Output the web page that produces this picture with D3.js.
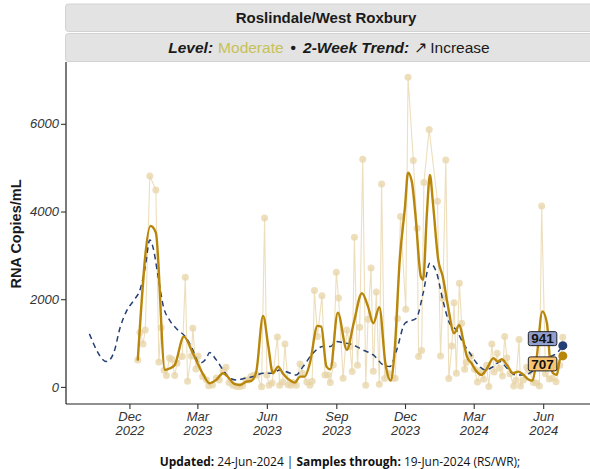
<!DOCTYPE html>
<html><head><meta charset="utf-8">
<script src="https://cdn.jsdelivr.net/npm/d3@7"></script>
<style>
body{margin:0;background:#fff;}
svg{display:block;font-family:"Liberation Sans",Arial,Helvetica,sans-serif;}
</style>
</head><body>
<svg id="chart" width="590" height="469"></svg>
<script>
// ---------- DATA ----------
const rawDates = ["2022-12-12","2022-12-15","2022-12-19","2022-12-22","2022-12-28","2023-01-05","2023-01-09","2023-01-12","2023-01-16","2023-01-19","2023-01-23","2023-01-26","2023-01-30","2023-02-02","2023-02-09","2023-02-13","2023-02-16","2023-02-21","2023-02-23","2023-02-27","2023-03-02","2023-03-08","2023-03-13","2023-03-16","2023-03-21","2023-03-26","2023-03-30","2023-04-04","2023-04-08","2023-04-12","2023-04-17","2023-04-22","2023-04-26","2023-04-30","2023-05-04","2023-05-08","2023-05-11","2023-05-15","2023-05-19","2023-05-25","2023-05-29","2023-06-01","2023-06-04","2023-06-08","2023-06-15","2023-06-18","2023-06-22","2023-06-25","2023-06-29","2023-07-03","2023-07-06","2023-07-10","2023-07-15","2023-07-18","2023-07-24","2023-07-28","2023-07-31","2023-08-03","2023-08-07","2023-08-13","2023-08-17","2023-08-21","2023-08-24","2023-08-28","2023-09-01","2023-09-04","2023-09-10","2023-09-15","2023-09-19","2023-09-22","2023-09-25","2023-09-29","2023-10-02","2023-10-06","2023-10-10","2023-10-13","2023-10-17","2023-10-20","2023-10-24","2023-10-28","2023-10-31","2023-11-04","2023-11-09","2023-11-15","2023-11-18","2023-11-21","2023-11-25","2023-12-02","2023-12-05","2023-12-12","2023-12-17","2023-12-19","2023-12-23","2023-12-26","2024-01-02","2024-01-13","2024-01-17","2024-01-20","2024-01-24","2024-01-28","2024-02-01","2024-02-04","2024-02-07","2024-02-11","2024-02-14","2024-02-18","2024-02-20","2024-02-26","2024-03-02","2024-03-06","2024-03-10","2024-03-14","2024-03-18","2024-03-21","2024-03-25","2024-03-28","2024-04-01","2024-04-04","2024-04-08","2024-04-11","2024-04-14","2024-04-18","2024-04-23","2024-04-26","2024-04-30","2024-05-02","2024-05-06","2024-05-10","2024-05-14","2024-05-19","2024-05-23","2024-05-27","2024-05-30","2024-06-04","2024-06-09","2024-06-13","2024-06-18","2024-06-23","2024-06-27"];
const rawValues = [616,1238,980,1300,4812,4493,570,1350,380,260,660,630,260,540,691,2501,130,707,1340,410,707,235,160,25,45,205,160,370,450,100,40,10,10,25,160,160,240,270,270,5,3850,270,40,90,1140,40,110,980,50,40,100,40,525,310,110,40,130,2196,1147,2080,270,270,100,500,2616,2030,200,1300,919,349,3414,495,1361,5193,39,1544,2714,358,2166,60,4629,189,312,200,200,1560,3884,1772,7063,5161,3619,691,828,4659,5868,4235,707,2014,5177,189,935,1922,312,2365,1453,404,554,707,400,114,372,176,495,7,980,342,768,426,251,1147,661,300,23,150,1080,20,160,449,350,100,90,23,4128,300,180,200,120,495,1133];

const smoothDates = ["2022-12-12","2022-12-29","2023-01-05","2023-01-17","2023-01-23","2023-01-30","2023-02-11","2023-02-23","2023-03-09","2023-03-17","2023-03-26","2023-04-04","2023-04-10","2023-04-19","2023-04-26","2023-05-05","2023-05-12","2023-05-18","2023-05-27","2023-06-03","2023-06-09","2023-06-16","2023-06-22","2023-07-02","2023-07-08","2023-07-15","2023-07-21","2023-07-28","2023-08-07","2023-08-12","2023-08-19","2023-08-24","2023-09-03","2023-09-15","2023-09-24","2023-10-05","2023-10-13","2023-10-20","2023-10-28","2023-11-05","2023-11-12","2023-11-17","2023-11-24","2023-12-01","2023-12-05","2023-12-10","2023-12-15","2023-12-22","2023-12-25","2023-12-30","2024-01-03","2024-01-07","2024-01-14","2024-01-20","2024-01-27","2024-02-04","2024-02-11","2024-02-16","2024-02-21","2024-02-27","2024-03-05","2024-03-11","2024-03-18","2024-03-27","2024-04-02","2024-04-07","2024-04-14","2024-04-22","2024-04-29","2024-05-06","2024-05-12","2024-05-18","2024-05-23","2024-05-31","2024-06-06","2024-06-10","2024-06-14","2024-06-19","2024-06-23","2024-06-27"];
const smoothValues = [600,3671,3519,388,420,500,1147,768,274,84,160,312,235,68,45,120,144,349,1619,920,312,463,312,144,98,235,235,540,1391,1375,463,400,1694,844,1453,2137,1831,1453,1818,540,144,768,2896,4112,4887,4682,3884,2515,2440,3960,4835,4189,2896,2515,1831,1225,1414,1072,691,540,349,274,404,654,577,631,502,312,349,274,176,144,616,1722,1453,616,312,274,616,707];

const regionDates = ["2022-10-09","2022-11-01","2022-11-10","2022-11-19","2022-11-28","2022-12-08","2022-12-15","2022-12-22","2022-12-28","2023-01-01","2023-01-08","2023-01-15","2023-01-23","2023-02-03","2023-02-13","2023-02-21","2023-03-04","2023-03-13","2023-03-17","2023-03-26","2023-04-04","2023-04-13","2023-04-22","2023-05-03","2023-05-14","2023-05-27","2023-06-09","2023-06-18","2023-07-02","2023-07-10","2023-07-19","2023-08-01","2023-08-14","2023-08-24","2023-09-01","2023-09-10","2023-09-23","2023-10-06","2023-10-20","2023-11-02","2023-11-11","2023-11-20","2023-12-01","2023-12-16","2023-12-25","2024-01-03","2024-01-12","2024-01-20","2024-01-29","2024-02-07","2024-02-16","2024-02-25","2024-03-05","2024-03-16","2024-03-27","2024-04-05","2024-04-14","2024-04-25","2024-05-06","2024-05-17","2024-05-28","2024-06-10","2024-06-19","2024-06-27"];
const regionValues = [1209,577,768,1375,1756,2000,2212,2743,3352,3200,2515,1831,1528,1300,1147,919,540,654,782,616,388,198,160,198,235,312,312,388,312,274,463,768,919,919,1033,1010,958,844,730,502,463,844,1453,1567,2137,2821,2593,1984,1453,1300,997,768,540,388,463,577,426,274,274,349,577,691,768,941];

const latestLabels = ["941","707"];
const xTickDates = ["2022-12-01","2023-03-01","2023-06-01","2023-09-01","2023-12-01","2024-03-01","2024-06-01"];
const xTickLabels = [["Dec","2022"],["Mar","2023"],["Jun","2023"],["Sep","2023"],["Dec","2023"],["Mar","2024"],["Jun","2024"]];
const yTicks = [0,2000,4000,6000];
const titleText = "Roslindale/West Roxbury";

// ---------- LAYOUT ----------
const parse = d3.utcParse("%Y-%m-%d");
const plot = {left:66, right:590, top:62, bottom:404};
const svg = d3.select("#chart");

const x = d3.scaleUtc().domain([parse("2022-09-08"), parse("2024-08-02")]).range([plot.left, plot.right]);
const y = d3.scaleLinear().domain([-390, 7410]).range([plot.bottom, plot.top]);

const raw = rawDates.map((d,i)=>({date:parse(d), v:rawValues[i]}));
const smooth = smoothDates.map((d,i)=>({date:parse(d), v:smoothValues[i]}));
const region = regionDates.map((d,i)=>({date:parse(d), v:regionValues[i]}));

const GOLD = "#b8860b", NAVY = "#243f73", TAN = "#e7d3a6";

// strips
const strips = [{y0:4, y1:31.5}, {y0:33.5, y1:61.5}];
strips.forEach(s=>{
  svg.append("rect").attr("x",65.5).attr("y",s.y0).attr("width",530).attr("height",s.y1-s.y0)
    .attr("rx",3).attr("fill","#e3e3e3").attr("stroke","#d2d2d2").attr("stroke-width",1);
});
const cx = 329;
svg.append("text").attr("x",cx-3).attr("y",23).attr("text-anchor","middle")
  .attr("font-size",15).attr("font-weight","bold").attr("fill","#1a1a1a").text(titleText);
const sub = svg.append("text").attr("x",cx).attr("y",52.5).attr("text-anchor","middle")
  .attr("font-size",15.5).attr("fill","#1a1a1a");
sub.append("tspan").attr("font-weight","bold").attr("font-style","italic").text("Level:");
sub.append("tspan").attr("dx",5).attr("fill","#c6c158").text("Moderate");
sub.append("tspan").attr("dx",7).attr("font-weight","bold").text("\u2022");
sub.append("tspan").attr("dx",7).attr("font-weight","bold").attr("font-style","italic").text("2-Week Trend:");
sub.append("tspan").attr("dx",5).text("\u2197");
sub.append("tspan").attr("dx",3).text("Increase");

// axes
const yAxis = d3.axisLeft(y).tickValues(yTicks).tickSize(5).tickSizeOuter(0).tickFormat(d3.format("d"));
const gy = svg.append("g").attr("transform",`translate(${plot.left},0)`).call(yAxis);
gy.select(".domain").attr("d",`M0,${plot.top}V${plot.bottom}`).attr("stroke","#222").attr("stroke-width",1.2);
gy.selectAll(".tick line").attr("stroke","#333").attr("stroke-width",1.1);
gy.selectAll(".tick text").attr("font-size",13).attr("font-style","italic").attr("fill","#333")
  .attr("font-family","Liberation Sans, Arial, sans-serif").attr("x",-7);

const xAxis = d3.axisBottom(x).tickValues(xTickDates.map(parse)).tickSize(5).tickSizeOuter(0).tickFormat("");
const gx = svg.append("g").attr("transform",`translate(0,${plot.bottom})`).call(xAxis);
gx.select(".domain").attr("d",`M${plot.left},0H${plot.right}`).attr("stroke","#222").attr("stroke-width",1.2);
gx.selectAll(".tick line").attr("stroke","#333").attr("stroke-width",1.1);
gx.selectAll(".tick").each(function(d,i){
  const t = d3.select(this).append("text").attr("fill","#333").attr("font-size",13)
    .attr("font-style","italic").attr("text-anchor","middle");
  t.append("tspan").attr("x",0).attr("y",17).text(xTickLabels[i][0]);
  t.append("tspan").attr("x",0).attr("y",31).text(xTickLabels[i][1]);
});

svg.append("text").attr("transform",`translate(21,${(plot.top+plot.bottom)/2 + 1}) rotate(-90)`)
  .attr("text-anchor","middle").attr("font-size",14.5).attr("font-weight","bold").attr("fill","#1a1a1a")
  .text("RNA Copies/mL");

// marks
const gPlot = svg.append("g");
const lineRaw = d3.line().x(d=>x(d.date)).y(d=>y(d.v));
gPlot.append("path").datum(raw).attr("d",lineRaw).attr("fill","none")
  .attr("stroke",TAN).attr("stroke-opacity",0.75).attr("stroke-width",1.1);
gPlot.selectAll("circle.raw").data(raw).join("circle").attr("class","raw")
  .attr("cx",d=>x(d.date)).attr("cy",d=>y(d.v)).attr("r",3.5)
  .attr("fill",TAN).attr("fill-opacity",0.75);

const lineSm = d3.line().x(d=>x(d.date)).y(d=>y(d.v)).curve(d3.curveMonotoneX);
gPlot.append("path").datum(region).attr("d",lineSm).attr("fill","none")
  .attr("stroke",NAVY).attr("stroke-width",1.5).attr("stroke-dasharray","5.5,4");
gPlot.append("path").datum(smooth).attr("d",lineSm).attr("fill","none")
  .attr("stroke",GOLD).attr("stroke-width",2.4).attr("stroke-linejoin","round");

// end dots
const lastR = region[region.length-1], lastS = smooth[smooth.length-1];
gPlot.append("circle").attr("cx",x(lastR.date)).attr("cy",y(lastR.v)).attr("r",4.5).attr("fill",NAVY);
gPlot.append("circle").attr("cx",x(lastS.date)).attr("cy",y(lastS.v)).attr("r",4.5).attr("fill",GOLD);

// labels
function label(txt, xr, ycen, fill){
  const w = 28.5, h = 14;
  const g = svg.append("g");
  g.append("rect").attr("x",xr-w).attr("y",ycen-h/2).attr("width",w).attr("height",h).attr("rx",2)
    .attr("fill",fill).attr("stroke","#222").attr("stroke-width",1);
  g.append("text").attr("x",xr-w/2).attr("y",ycen+4.8).attr("text-anchor","middle")
    .attr("font-size",13.5).attr("font-weight","bold").attr("fill","#111").text(txt);
}
label(latestLabels[0], x(lastR.date)-6, y(lastR.v)-7, "#919fd0");
label(latestLabels[1], x(lastS.date)-6, y(lastS.v)+8, "#f7c36f");

// caption
const cap = svg.append("text").attr("x",340).attr("y",466).attr("text-anchor","middle")
  .attr("font-family","Open Sans, DejaVu Sans, sans-serif").attr("font-size",11).attr("fill","#111");
cap.append("tspan").attr("font-weight","bold").text("Updated:");
cap.append("tspan").text(" 24-Jun-2024 | ");
cap.append("tspan").attr("font-weight","bold").text("Samples through:");
cap.append("tspan").text(" 19-Jun-2024 (RS/WR);");
const len = cap.node().getComputedTextLength();
cap.attr("font-size", 11*361/len);
</script>
</body></html>
